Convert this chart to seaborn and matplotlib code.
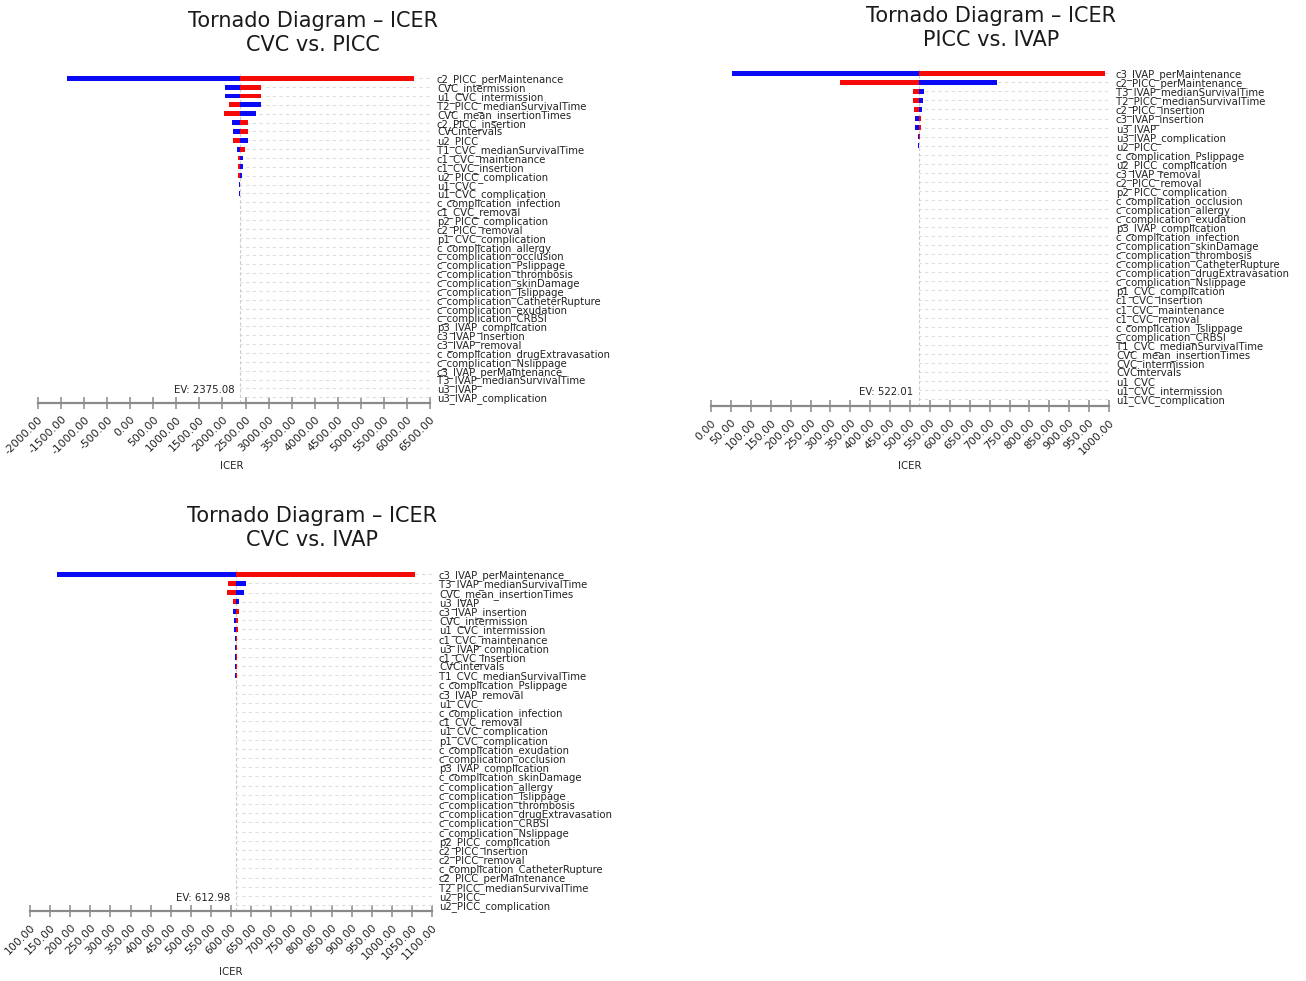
import numpy as np
import pandas as pd
import matplotlib.pyplot as plt
import seaborn as sns

W, H = 1306, 981

# ---- CVC vs. PICC ----
ev_1 = 2375.08
params_1 = ["c2_PICC_perMaintenance", "CVC_intermission", "u1_CVC_intermission",
            "T2_PICC_medianSurvivalTime", "CVC_mean_insertionTimes", "c2_PICC_insertion",
            "CVCintervals", "u2_PICC", "T1_CVC_medianSurvivalTime", "c1_CVC_maintenance",
            "c1_CVC_insertion", "u2_PICC_complication", "u1_CVC", "u1_CVC_complication",
            "c_complication_infection", "c1_CVC_removal", "p2_PICC_complication",
            "c2_PICC_removal", "p1_CVC_complication", "c_complication_allergy",
            "c_complication_occlusion", "c_complication_Pslippage", "c_complication_thrombosis",
            "c_complication_skinDamage", "c_complication_Tslippage",
            "c_complication_CatheterRupture", "c_complication_exudation",
            "c_complication_CRBSI", "p3_IVAP_complication", "c3_IVAP_insertion",
            "c3_IVAP_removal", "c_complication_drugExtravasation", "c_complication_Nslippage",
            "c3_IVAP_perMaintenance", "T3_IVAP_medianSurvivalTime", "u3_IVAP",
            "u3_IVAP_complication"]
blue_1 = [-1378, 2058, 2058, 2843, 2735, 2211, 2230, 2548, 2310, 2447, 2447, 2432, 2362, 2366]
red_1 = [6150, 2843, 2843, 2138, 2030, 2556, 2556, 2230, 2483, 2332, 2332, 2346, 2388, 2384]
ticks_1 = np.arange(-2000, 6501, 500)

# ---- PICC vs. IVAP ----
ev_2 = 522.01
params_2 = ["c3_IVAP_perMaintenance", "c2_PICC_perMaintenance", "T3_IVAP_medianSurvivalTime",
            "T2_PICC_medianSurvivalTime", "c2_PICC_insertion", "c3_IVAP_insertion", "u3_IVAP",
            "u3_IVAP_complication", "u2_PICC", "c_complication_Pslippage",
            "u2_PICC_complication", "c3_IVAP_removal", "c2_PICC_removal",
            "p2_PICC_complication", "c_complication_occlusion", "c_complication_allergy",
            "c_complication_exudation", "p3_IVAP_complication", "c_complication_infection",
            "c_complication_skinDamage", "c_complication_thrombosis",
            "c_complication_CatheterRupture", "c_complication_drugExtravasation",
            "c_complication_Nslippage", "p1_CVC_complication", "c1_CVC_insertion",
            "c1_CVC_maintenance", "c1_CVC_removal", "c_complication_Tslippage",
            "c_complication_CRBSI", "T1_CVC_medianSurvivalTime", "CVC_mean_insertionTimes",
            "CVC_intermission", "CVCintervals", "u1_CVC", "u1_CVC_intermission",
            "u1_CVC_complication"]
blue_2 = [52, 718, 535, 532, 531, 513, 513, 520, 520.5]
red_2 = [990, 325, 508, 508, 510, 528, 528, 524, 523.5]
ticks_2 = np.arange(0, 1001, 50)

# ---- CVC vs. IVAP ----
ev_3 = 612.98
params_3 = ["c3_IVAP_perMaintenance", "T3_IVAP_medianSurvivalTime", "CVC_mean_insertionTimes",
            "u3_IVAP", "c3_IVAP_insertion", "CVC_intermission", "u1_CVC_intermission",
            "c1_CVC_maintenance", "u3_IVAP_complication", "c1_CVC_insertion", "CVCintervals",
            "T1_CVC_medianSurvivalTime", "c_complication_Pslippage", "c3_IVAP_removal",
            "u1_CVC", "c_complication_infection", "c1_CVC_removal", "u1_CVC_complication",
            "p1_CVC_complication", "c_complication_exudation", "c_complication_occlusion",
            "p3_IVAP_complication", "c_complication_skinDamage", "c_complication_allergy",
            "c_complication_Tslippage", "c_complication_thrombosis",
            "c_complication_drugExtravasation", "c_complication_CRBSI",
            "c_complication_Nslippage", "p2_PICC_complication", "c2_PICC_insertion",
            "c2_PICC_removal", "c_complication_CatheterRupture", "c2_PICC_perMaintenance",
            "T2_PICC_medianSurvivalTime", "u2_PICC", "u2_PICC_complication"]
blue_3 = [166, 637, 632, 619, 604, 607, 607, 610, 610, 610, 611, 611]
red_3 = [1058, 593, 591, 604, 619, 617, 617, 615, 615, 615, 614, 614]
ticks_3 = np.arange(100, 1101, 50)

FS = 7.3


def tornado(fig, params, ev, low, high, ticks, x0, x1, first_row, axis_y, spacing):
    top = first_row - 0.5 * spacing
    ax = fig.add_axes([x0 / W, 1 - axis_y / H, (x1 - x0) / W, (axis_y - top) / H])
    n = len(low)
    df = pd.DataFrame({"param": params[:n],
                       "low": np.array(low) - ev,
                       "high": np.array(high) - ev})
    sns.barplot(data=df, x="low", y="param", order=params, orient="y", color="#0a0af5",
                saturation=1, width=0.55, errorbar=None, linewidth=0, ax=ax, zorder=3)
    sns.barplot(data=df, x="high", y="param", order=params, orient="y", color="#f50a0a",
                saturation=1, width=0.55, errorbar=None, linewidth=0, ax=ax, zorder=3)

    lo, hi = ticks[0] - ev, ticks[-1] - ev
    rows = np.arange(len(params))
    ax.hlines(rows, 0, hi, colors="#dedede", linestyles=(1, (3, 3)), linewidth=0.8, zorder=1)
    ax.axvline(0, color="#cccccc", linestyle=(0, (3, 2)), linewidth=0.8, zorder=1)

    ax.set_xlim(lo, hi)
    ax.set_ylim((axis_y - first_row) / spacing, -0.5)
    ax.set_xticks(ticks - ev, labels=[f"{t:.2f}" for t in ticks])
    plt.setp(ax.get_xticklabels(), rotation=45, ha="right", rotation_mode="anchor")
    ax.tick_params(axis="x", bottom=True, direction="inout", length=8, width=1.1,
                   color="#8a8a8a", labelsize=7.8, pad=4, labelcolor="#222222")
    ax.yaxis.tick_right()
    ax.tick_params(axis="y", length=0, pad=5, labelsize=FS, labelcolor="#222222")
    ax.set_xlabel("")
    ax.set_ylabel("")
    for s in ["top", "left", "right"]:
        ax.spines[s].set_visible(False)
    ax.spines["bottom"].set_color("#8a8a8a")
    ax.spines["bottom"].set_linewidth(1.6)
    ax.set_facecolor("none")

    ax.annotate(f"EV: {ev:.2f}", xy=(0, 35.2), xytext=(-4, 0), textcoords="offset points",
                ha="right", va="center", fontsize=FS, color="#222222")
    return ax


sns.set_style("white")
plt.rcParams["font.family"] = ["DejaVu Sans"]

fig = plt.figure(figsize=(W / 100, H / 100), dpi=100)

tornado(fig, params_1, ev_1, blue_1, red_1, ticks_1, 38, 430, 78.3, 403, 8.86)
tornado(fig, params_2, ev_2, blue_2, red_2, ticks_2, 711, 1109, 73.3, 406.5, 9.05)
tornado(fig, params_3, ev_3, blue_3, red_3, ticks_3, 30, 432, 574.3, 911, 9.19)

titles = [("Tornado Diagram – ICER\nCVC vs. PICC", 313, 33),
          ("Tornado Diagram – ICER\nPICC vs. IVAP", 991, 28),
          ("Tornado Diagram – ICER\nCVC vs. IVAP", 312, 528)]
for txt, x, y in titles:
    fig.text(x / W, 1 - y / H, txt, ha="center", va="center", fontsize=15,
             linespacing=1.25, color="#1a1a1a")

for x, y in [(232, 466), (910, 466), (231, 972)]:
    fig.text(x / W, 1 - y / H, "ICER", ha="center", va="center", fontsize=FS, color="#222222")

fig.savefig("out.png", dpi=100, facecolor="white")
